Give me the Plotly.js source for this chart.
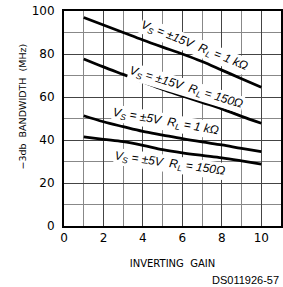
<!DOCTYPE html>
<html><head><meta charset="utf-8">
<script src="https://cdn.plot.ly/plotly-3.0.1.min.js"></script>
<style>html,body{margin:0;padding:0;background:#fff}#c{width:283px;height:287px}</style>
</head><body><div id="c"></div>
<script>
const gain = [1,2,3,4,5,6,7,8,9,10];
const bw15_1k  = [97,93.5,90,86.5,83.2,80,76.5,72.5,68.5,64.5];
const bw15_150 = [77.7,74,70.5,67,63.5,60.5,57.5,54.5,51,47.8];
const bw5_1k   = [51.3,48.5,46.2,44,42.3,40.6,39.1,37.7,36.1,34.6];
const bw5_150  = [41.5,40.3,39.2,37.5,35.5,34,32.8,31.7,30.3,28.8];
const labels = [
  {text:"V<sub>S</sub> = ±15V  R<sub>L</sub> = 1 kΩ", x:6.6, y:83.5, a:22},
  {text:"V<sub>S</sub> = ±15V  R<sub>L</sub> = 150Ω", x:6.2, y:64.3, a:17},
  {text:"V<sub>S</sub> = ±5V  R<sub>L</sub> = 1 kΩ", x:5.15, y:48.3, a:10},
  {text:"V<sub>S</sub> = ±5V  R<sub>L</sub> = 150Ω", x:5.35, y:28.7, a:8}
];
const series = [bw15_1k,bw15_150,bw5_1k,bw5_150];
const traces = series.map(s=>({x:gain,y:s,mode:'lines',line:{color:'#000',width:2.8,shape:'spline'},hoverinfo:'skip'}));
const font = {family:'"DejaVu Sans", Arial, sans-serif', color:'#000'};
const layout = {
  width:283,height:287,showlegend:false,
  margin:{l:64,r:2,t:11,b:61},
  paper_bgcolor:'#fff',plot_bgcolor:'#fff',
  font:Object.assign({size:11},font),
  xaxis:{range:[0,11],tickvals:[0,2,4,6,8,10],showgrid:true,gridcolor:'#444',gridwidth:1,
    minor:{dtick:1,tick0:0,showgrid:true,gridcolor:'#888',gridwidth:1},
    showline:true,linecolor:'#000',linewidth:2,mirror:true,zeroline:false,ticks:'',
    tickfont:{size:12},
    title:{text:'INVERTING  GAIN',font:{size:10},standoff:16}},
  yaxis:{range:[0,100],tickvals:[0,20,40,60,80,100],showgrid:true,gridcolor:'#444',gridwidth:1,
    minor:{dtick:10,tick0:0,showgrid:true,gridcolor:'#888',gridwidth:1},
    showline:true,linecolor:'#000',linewidth:2,mirror:true,zeroline:false,ticks:'',
    tickfont:{size:12},ticklabelstandoff:5},
  annotations: labels.map(l=>({x:l.x,y:l.y,xref:'x',yref:'y',text:'<i>'+l.text+'</i>',showarrow:false,
    textangle:l.a,bgcolor:'#fff',borderpad:0,font:{size:12,family:'"Liberation Sans", Arial, sans-serif'}})).concat([
    {x:0,y:0.5,xref:'paper',yref:'paper',xanchor:'center',yanchor:'middle',xshift:-42,yshift:12,textangle:-90,
     text:'−3db  BANDWIDTH  (MHz)',showarrow:false,font:{size:9.5}},
    {x:1,y:0,xref:'paper',yref:'paper',xanchor:'right',yanchor:'middle',yshift:-54,text:'DS011926-57',showarrow:false,
     font:{size:11,family:'"Liberation Sans", Arial, sans-serif'}}])
};
Plotly.newPlot('c',traces,layout,{staticPlot:true,displayModeBar:false});
</script></body></html>
